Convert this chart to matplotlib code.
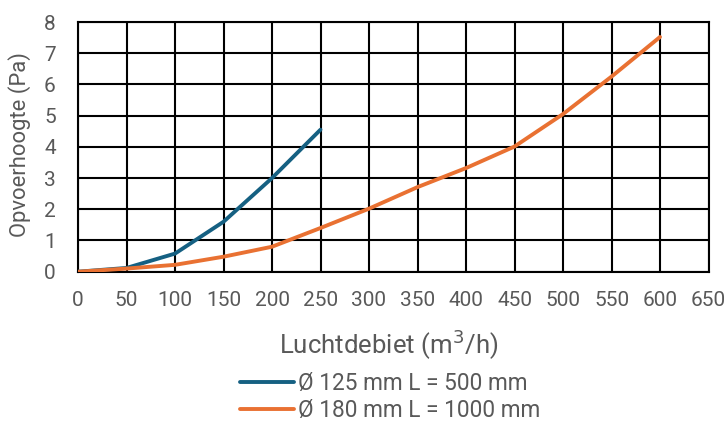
import matplotlib
matplotlib.use("Agg")
import matplotlib.pyplot as plt

plt.rcParams['font.family'] = ['Roboto', 'DejaVu Sans']

x_blue = [0, 50, 100, 150, 200, 250]
y_blue = [0, 0.12, 0.58, 1.6, 3.0, 4.55]
x_orange = [0, 50, 100, 150, 200, 250, 300, 350, 400, 450, 500, 550, 600]
y_orange = [0, 0.1, 0.22, 0.48, 0.8, 1.4, 2.02, 2.71, 3.32, 4.01, 5.05, 6.25, 7.52]
label_blue = "Ø 125 mm L = 500 mm"
label_orange = "Ø 180 mm L = 1000 mm"
x_ticks = list(range(0, 651, 50))
y_ticks = list(range(0, 9))

fig = plt.figure(figsize=(7.28, 4.24), dpi=100)
ax = fig.add_axes([78/728, 1 - 271.7/424, (708.5-78)/728, (271.7-22)/424])

ax.plot(x_blue, y_blue, color='#156082', lw=2.8, solid_capstyle='round', label=label_blue, zorder=3)
ax.plot(x_orange, y_orange, color='#E97132', lw=2.8, solid_capstyle='round', label=label_orange, zorder=3)

ax.set_xlim(0, 650)
ax.set_ylim(0, 8)
ax.set_xticks(x_ticks)
ax.set_yticks(y_ticks)
ax.grid(True, color='black', lw=1.5)
for s in ax.spines.values():
    s.set_color('black')
    s.set_linewidth(1.5)
ax.tick_params(length=0, labelsize=15, colors='#595959')
ax.tick_params(axis='x', pad=14)
ax.tick_params(axis='y', pad=16)
ax.set_xlabel("Luchtdebiet (m$^3$/h)", fontsize=18.5, color='#595959')
ax.set_ylabel("Opvoerhoogte (Pa)", fontsize=15.8, color='#595959')
ax.xaxis.set_label_coords(0.492, -(345 - 271.7) / 249.7, transform=ax.transAxes)
ax.yaxis.set_label_coords(-(78 - 20) / 630.5, (271.7 - 145) / 249.7, transform=ax.transAxes)
ax.xaxis.label.set_va('center')
ax.yaxis.label.set_va('center')

leg = fig.legend(loc='center', bbox_to_anchor=(390/728, 1 - 397/424), ncol=1, frameon=False,
                 fontsize=16.3, handlelength=2.4, handletextpad=0.15, labelspacing=0.15)
for t in leg.get_texts():
    t.set_color('#595959')

fig.savefig("out.png", dpi=100)
